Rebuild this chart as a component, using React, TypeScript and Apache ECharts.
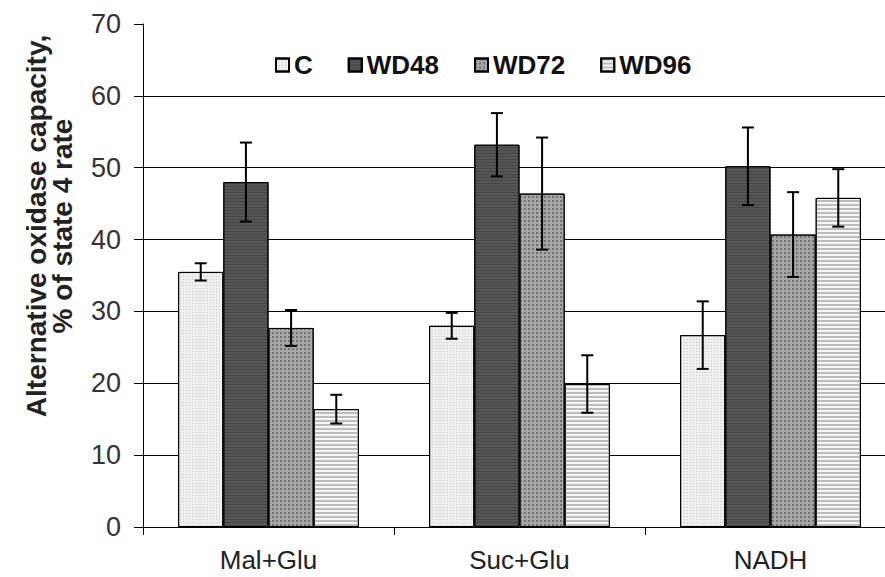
import React, { useEffect, useRef } from "react";
import * as echarts from "echarts";

const categories = ["Mal+Glu", "Suc+Glu", "NADH"];
const seriesNames = ["C", "WD48", "WD72", "WD96"];
const valuesC = [35.5, 28.0, 26.7];
const valuesWD48 = [48.0, 53.2, 50.2];
const valuesWD72 = [27.7, 46.4, 40.7];
const valuesWD96 = [16.4, 19.9, 45.8];
const errC = [1.2, 1.8, 4.7];
const errWD48 = [5.5, 4.4, 5.4];
const errWD72 = [2.5, 7.8, 5.9];
const errWD96 = [2.0, 4.0, 4.0];
const yTicks = [0, 10, 20, 30, 40, 50, 60, 70];

const allValues = [valuesC, valuesWD48, valuesWD72, valuesWD96];
const allErrs = [errC, errWD48, errWD72, errWD96];

const styles = [
  {
    color: "#eeeeee",
    decal: { symbol: "rect", symbolSize: 1, dashArrayX: [1, 2], dashArrayY: [1, 2], color: "rgba(140,140,140,0.35)" },
  },
  {
    color: "#565656",
    decal: { symbol: "rect", symbolSize: 1, dashArrayX: [1, 0], dashArrayY: [1, 2], color: "rgba(0,0,0,0.18)" },
  },
  {
    color: "#a6a6a6",
    decal: { symbol: "rect", symbolSize: 1, dashArrayX: [2, 2], dashArrayY: [2, 2], color: "rgba(70,70,70,0.55)" },
  },
  {
    color: "#f4f4f4",
    decal: { symbol: "rect", symbolSize: 1, dashArrayX: [1, 0], dashArrayY: [2, 2], color: "rgba(175,175,175,0.8)" },
  },
];

const GAP = 0.28;

export default function App() {
  const ref = useRef<HTMLDivElement>(null);
  useEffect(() => {
    document.body.style.margin = "0";
    const chart = echarts.init(ref.current!, null, { renderer: "svg" });
    const errData: any[] = [];
    allValues.forEach((vals, si) => {
      vals.forEach((v, ci) => errData.push([ci, v, allErrs[si][ci], si]));
    });
    const barSeries = seriesNames.map((name, si) => ({
      name,
      type: "bar",
      data: allValues[si],
      barGap: "0%",
      barCategoryGap: "28%",
      itemStyle: {
        color: styles[si].color,
        decal: styles[si].decal,
        borderColor: "#000",
        borderWidth: 1,
      },
      z: 2,
    }));
    chart.setOption({
      animation: false,
      aria: { enabled: false, decal: { show: false } },
      textStyle: { fontFamily: "Liberation Sans, Arial, sans-serif" },
      grid: { left: 143, right: 0, top: 24, bottom: 50, containLabel: false },
      legend: {
        data: seriesNames,
        left: 270,
        top: 47,
        icon: "rect",
        itemWidth: 13,
        itemHeight: 13,
        itemGap: 35,
        textStyle: { fontSize: 26, fontWeight: "bold", color: "#111" },
      },
      graphic: [
        {
          type: "text",
          x: 49,
          y: 226,
          rotation: Math.PI / 2,
          style: {
            text: "Alternative oxidase capacity,\n% of state 4 rate",
            font: "bold 28px 'Liberation Sans', Arial, sans-serif",
            fill: "#222",
            align: "center",
            verticalAlign: "middle",
            lineHeight: 26,
          },
        },
      ],
      xAxis: {
        type: "category",
        data: categories,
        axisLine: { lineStyle: { color: "#000", width: 1 } },
        axisTick: { show: true, length: 8, lineStyle: { color: "#000" } },
        axisLabel: { fontSize: 26, color: "#222", margin: 20 },
      },
      yAxis: {
        type: "value",
        min: 0,
        max: 70,
        interval: 10,
        axisLine: { show: true, lineStyle: { color: "#000", width: 1 } },
        axisTick: { show: true, length: 9, lineStyle: { color: "#000" } },
        axisLabel: {
          fontSize: 27,
          color: "#333",
          margin: 22,
          formatter: (v: number) => (yTicks.includes(v) ? String(v) : ""),
        },
        splitLine: { show: true, showMaxLine: false, lineStyle: { color: "#000", width: 1 } },
      },
      series: [
        ...barSeries,
        {
          type: "custom",
          name: "err",
          data: errData,
          encode: { x: 0, y: 1 },
          z: 5,
          renderItem: (params: any, api: any) => {
            const ci = api.value(0);
            const v = api.value(1);
            const e = api.value(2);
            const si = api.value(3);
            const band = api.size([1, 0])[0];
            const bw = (band * (1 - GAP)) / 4;
            const xc = api.coord([ci, v])[0] + (si - 1.5) * bw;
            const yt = api.coord([ci, v + e])[1];
            const yb = api.coord([ci, v - e])[1];
            const cap = 6;
            const st = { stroke: "#000", lineWidth: 2 };
            return {
              type: "group",
              children: [
                { type: "line", shape: { x1: xc, y1: yt, x2: xc, y2: yb }, style: st },
                { type: "line", shape: { x1: xc - cap, y1: yt, x2: xc + cap, y2: yt }, style: st },
                { type: "line", shape: { x1: xc - cap, y1: yb, x2: xc + cap, y2: yb }, style: st },
              ],
            };
          },
        },
      ],
    });
    return () => chart.dispose();
  }, []);
  return (
    <div style={{ width: 885, height: 577, overflow: "hidden", position: "relative", background: "#fff" }}>
      <div ref={ref} style={{ width: 896, height: 577 }} />
    </div>
  );
}
